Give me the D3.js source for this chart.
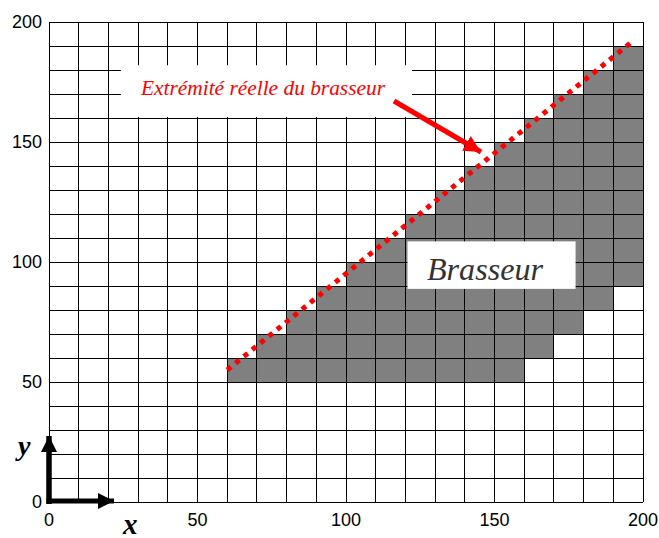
<!DOCTYPE html>
<html>
<head>
<meta charset="utf-8">
<script src="https://cdn.jsdelivr.net/npm/d3@7"></script>
<style>
  html, body { margin: 0; padding: 0; background: #fff; }
  svg { display: block; }
</style>
</head>
<body>
<svg id="chart" width="659" height="538"></svg>
<script>
// ---- data ----
const xTicks = [0, 50, 100, 150, 200];
const yTicks = [0, 50, 100, 150, 200];
const gridStep = 10;
// Brasseur cells: columns start x, top y, bottom y
const colX      = [60, 70, 80, 90, 100, 110, 120, 130, 140, 150, 160, 170, 180, 190];
const colTop    = [60, 70, 80, 90, 100, 110, 120, 130, 140, 150, 160, 170, 180, 190];
const colBottom = [50, 50, 50, 50, 50, 50, 50, 50, 50, 50, 60, 70, 80, 90];
// real tip of the mixer (dotted line)
const tipX = [60, 197];
const tipY = [55, 192.5];
const labelTip = "Extrémité réelle du brasseur";
const labelBrasseur = "Brasseur";

// ---- layout ----
const svg = d3.select("#chart");
const x = d3.scaleLinear().domain([0, 200]).range([49, 643]);
const y = d3.scaleLinear().domain([0, 200]).range([502, 22]);

svg.append("rect").attr("width", 659).attr("height", 538).attr("fill", "#fff");

// gray cells
const cells = [];
colX.forEach((cx, i) => {
  for (let v = colBottom[i]; v < colTop[i]; v += gridStep) cells.push({x: cx, y: v});
});
svg.append("g").selectAll("rect").data(cells).join("rect")
  .attr("x", d => x(d.x)).attr("y", d => y(d.y + gridStep))
  .attr("width", d => x(d.x + gridStep) - x(d.x))
  .attr("height", d => y(d.y) - y(d.y + gridStep))
  .attr("fill", "#808080");

// grid
const gridVals = d3.range(0, 201, gridStep);
const g = svg.append("g").attr("stroke", "#000").attr("stroke-width", 1).attr("shape-rendering", "crispEdges");
g.selectAll("line.v").data(gridVals).join("line").attr("class", "v")
  .attr("x1", d => x(d)).attr("x2", d => x(d)).attr("y1", y(0)).attr("y2", y(200));
g.selectAll("line.h").data(gridVals).join("line").attr("class", "h")
  .attr("y1", d => y(d)).attr("y2", d => y(d)).attr("x1", x(0)).attr("x2", x(200));

// white annotation boxes
svg.append("rect").attr("x", x(24.2)).attr("y", y(182)).attr("width", x(122.2) - x(24.2)).attr("height", y(160.4) - y(182)).attr("fill", "#fff");
svg.append("rect").attr("x", x(120.7)).attr("y", y(108.6)).attr("width", x(177.3) - x(120.7)).attr("height", y(88.8) - y(108.6)).attr("fill", "#fff");

svg.append("text").attr("x", 141).attr("y", 94.5)
  .attr("font-family", "'Liberation Serif', 'Times New Roman', serif").attr("font-style", "italic")
  .attr("font-size", 21).attr("fill", "#ff0000")
  .attr("textLength", 244).attr("lengthAdjust", "spacingAndGlyphs")
  .text(labelTip);
svg.append("text").attr("x", 427).attr("y", 279.5)
  .attr("font-family", "'Liberation Serif', 'Times New Roman', serif").attr("font-style", "italic")
  .attr("font-size", 31).attr("fill", "#333")
  .attr("textLength", 116).attr("lengthAdjust", "spacingAndGlyphs")
  .text(labelBrasseur);

// dotted line
svg.append("path")
  .datum(tipX.map((v, i) => [v, tipY[i]]))
  .attr("d", d3.line().x(d => x(d[0])).y(d => y(d[1])))
  .attr("fill", "none").attr("stroke", "#ff0000").attr("stroke-width", 5)
  .attr("stroke-dasharray", "5,5.7");

// red arrow
const defs = svg.append("defs");
defs.append("marker").attr("id", "redHead").attr("viewBox", "0 0 10 10")
  .attr("refX", 10).attr("refY", 5).attr("markerWidth", 17).attr("markerHeight", 17)
  .attr("markerUnits", "userSpaceOnUse").attr("orient", "auto")
  .append("path").attr("d", "M0,0 L10,5 L0,10 Z").attr("fill", "#ff0000");
svg.append("line").attr("x1", 394).attr("y1", 101).attr("x2", 481).attr("y2", 152)
  .attr("stroke", "#ff0000").attr("stroke-width", 5).attr("marker-end", "url(#redHead)");

// black axis arrows
defs.append("marker").attr("id", "blackHead").attr("viewBox", "0 0 10 10")
  .attr("refX", 10).attr("refY", 5).attr("markerWidth", 16).attr("markerHeight", 16)
  .attr("markerUnits", "userSpaceOnUse").attr("orient", "auto")
  .append("path").attr("d", "M0,0 L10,5 L0,10 Z").attr("fill", "#000");
svg.append("line").attr("x1", 49).attr("y1", 504).attr("x2", 49).attr("y2", 436)
  .attr("stroke", "#000").attr("stroke-width", 5.5).attr("marker-end", "url(#blackHead)");
svg.append("line").attr("x1", 46.5).attr("y1", 501).attr("x2", 114).attr("y2", 501)
  .attr("stroke", "#000").attr("stroke-width", 5).attr("marker-end", "url(#blackHead)");

// tick labels
const tickFont = "'Liberation Sans', Arial, sans-serif";
svg.append("g").selectAll("text").data(yTicks).join("text")
  .attr("x", 42).attr("y", d => y(d)).attr("dy", "0.36em")
  .attr("text-anchor", "end").attr("font-family", tickFont).attr("font-size", 18)
  .attr("fill", "#000").text(d => d);
svg.append("g").selectAll("text").data(xTicks).join("text")
  .attr("x", d => x(d)).attr("y", 525.5)
  .attr("text-anchor", "middle").attr("font-family", tickFont).attr("font-size", 18)
  .attr("fill", "#000").text(d => d);

// axis names
svg.append("text").attr("x", 18).attr("y", 455)
  .attr("font-family", "'Liberation Serif', 'Times New Roman', serif").attr("font-style", "italic").attr("font-weight", "bold")
  .attr("font-size", 28).attr("fill", "#000").text("y");
svg.append("text").attr("x", 123).attr("y", 534)
  .attr("font-family", "'Liberation Serif', 'Times New Roman', serif").attr("font-style", "italic").attr("font-weight", "bold")
  .attr("font-size", 29).attr("fill", "#000").text("x");
</script>
</body>
</html>
